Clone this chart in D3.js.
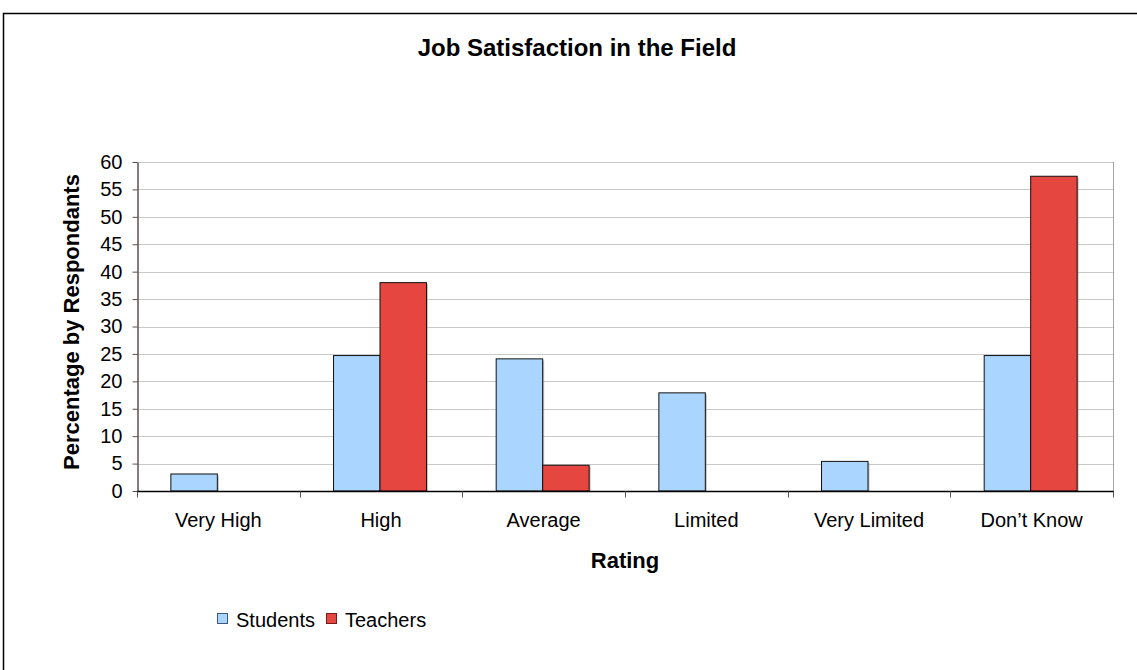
<!DOCTYPE html>
<html>
<head>
<meta charset="utf-8">
<script src="https://cdn.jsdelivr.net/npm/d3@7"></script>
<style>
  html, body { margin: 0; padding: 0; background: #fff; }
  svg { display: block; font-family: "Liberation Sans", Arial, sans-serif; }
</style>
</head>
<body>
<svg id="chart" width="1137" height="670"></svg>
<script>
// Survey results: share of respondents per job-satisfaction rating
const categories = ["Very High", "High", "Average", "Limited", "Very Limited", "Don\u2019t Know"];
const seriesNames = ["Students", "Teachers"];
const students = [3.1, 24.7, 24.1, 17.9, 5.4, 24.7];
const teachers = [0, 38.0, 4.7, 0, 0, 57.4];
const yTicks = [0, 5, 10, 15, 20, 25, 30, 35, 40, 45, 50, 55, 60];
const colors = ["#A9D5FF", "#E64640"];

const seriesValues = [students, teachers];

const svg = d3.select("#chart");
const plot = { left: 137, right: 1113, top: 162, bottom: 491 };

// Outer chart frame
svg.append("rect")
  .attr("x", 3.5).attr("y", 13.5)
  .attr("width", 1200).attr("height", 700)
  .attr("fill", "#fff").attr("stroke", "#000").attr("stroke-width", 1.5);

const x0 = d3.scaleBand().domain(categories).range([plot.left, plot.right]).paddingInner(0).paddingOuter(0);
const x1 = d3.scaleBand().domain(seriesNames).range([0, x0.bandwidth() * 2 / 3.5]);
const y = d3.scaleLinear().domain([0, 60]).range([plot.bottom, plot.top]);

// Horizontal gridlines
svg.append("g").selectAll("line").data(yTicks.filter(t => t > 0)).join("line")
  .attr("x1", plot.left).attr("x2", plot.right)
  .attr("y1", d => Math.round(y(d)) + 0.5).attr("y2", d => Math.round(y(d)) + 0.5)
  .attr("stroke", "#c9c9c9").attr("stroke-width", 1);

// Right edge of plot area
svg.append("line")
  .attr("x1", plot.right + 0.5).attr("x2", plot.right + 0.5)
  .attr("y1", plot.top).attr("y2", plot.bottom)
  .attr("stroke", "#a6a6a6");

// Bars with a faint drop shadow
const groups = svg.append("g").selectAll("g").data(categories).join("g")
  .attr("transform", d => `translate(${x0(d) + x0.bandwidth() / 2 - x1.range()[1] / 2 - 1},0)`);

groups.each(function(cat, ci) {
  const g = d3.select(this);
  seriesNames.forEach((s, si) => {
    const v = seriesValues[si][ci];
    if (v <= 0) return;
    const bx = x1(s), bw = x1.bandwidth();
    g.append("rect")
      .attr("x", bx + 1.5).attr("y", y(v) + 1.5)
      .attr("width", bw).attr("height", y(0) - y(v) - 1.5)
      .attr("fill", "#9a9a9a").attr("opacity", 0.6);
    g.append("rect")
      .attr("x", bx).attr("y", y(v))
      .attr("width", bw).attr("height", y(0) - y(v))
      .attr("fill", colors[si]).attr("stroke", "#111").attr("stroke-width", 1);
  });
});

// Y axis
const yAxis = svg.append("g")
  .attr("transform", `translate(${plot.left + 0.5},0)`)
  .call(d3.axisLeft(y).tickValues(yTicks).tickSize(5).tickPadding(10).tickSizeOuter(0));
yAxis.select(".domain").attr("stroke", "#5e5050").attr("stroke-width", 1.5);
yAxis.selectAll(".tick line").attr("stroke", "#5e5050");
yAxis.selectAll(".tick text").attr("font-size", 20).attr("fill", "#000")
  .attr("font-family", "Liberation Sans, Arial, sans-serif");

// X axis with ticks at category boundaries
const xAxisG = svg.append("g").attr("transform", `translate(0,${plot.bottom + 0.5})`);
xAxisG.append("line").attr("x1", plot.left).attr("x2", plot.right + 1)
  .attr("stroke", "#000").attr("stroke-width", 1.5);
const bounds = categories.map(c => x0(c)).concat([plot.right]);
xAxisG.selectAll("line.tk").data(bounds).join("line").attr("class", "tk")
  .attr("x1", d => Math.round(d) + 0.5).attr("x2", d => Math.round(d) + 0.5)
  .attr("y1", 0).attr("y2", 6).attr("stroke", "#5e5050");
xAxisG.selectAll("text").data(categories).join("text")
  .attr("x", d => x0(d) + x0.bandwidth() / 2).attr("y", 35)
  .attr("text-anchor", "middle").attr("font-size", 20).text(d => d);

// Titles
svg.append("text").attr("x", 577).attr("y", 56).attr("text-anchor", "middle")
  .attr("font-size", 24).attr("font-weight", "bold").text("Job Satisfaction in the Field");
svg.append("text").attr("x", 625).attr("y", 568).attr("text-anchor", "middle")
  .attr("font-size", 22).attr("font-weight", "bold").text("Rating");
svg.append("text").attr("transform", "translate(79,322) rotate(-90)")
  .attr("text-anchor", "middle").attr("font-size", 22).attr("font-weight", "bold")
  .text("Percentage by Respondants");

// Legend
const legend = svg.append("g").attr("transform", "translate(217,613)");
const legendX = [0, 109];
seriesNames.forEach((s, i) => {
  const lg = legend.append("g").attr("transform", `translate(${legendX[i]},0)`);
  lg.append("rect").attr("x", 0.5).attr("y", 0.5).attr("width", 10).attr("height", 10)
    .attr("fill", colors[i]).attr("stroke", i === 0 ? "#3d5a78" : "#7a1a16");
  lg.append("text").attr("x", 19).attr("y", 13.5).attr("font-size", 20).text(s);
});
</script>
</body>
</html>
